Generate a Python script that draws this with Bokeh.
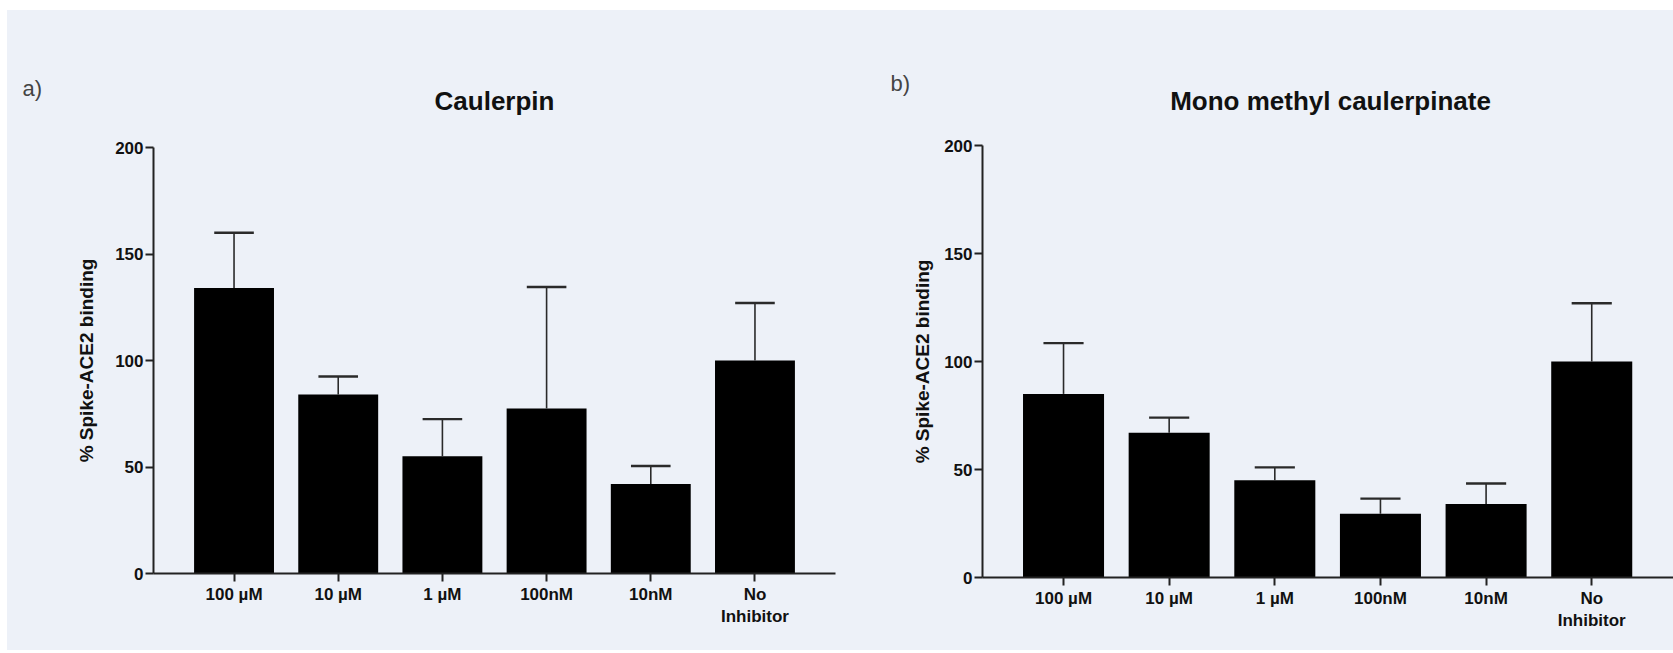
from bokeh.plotting import figure
from bokeh.layouts import row, column
from bokeh.models import FixedTicker, Range1d, ColumnDataSource
from bokeh.core.properties import value
from bokeh.embed import file_html
from bokeh.resources import INLINE

# Concentrations tested (same for both compounds)
categories = ["100 µM", "10 µM", "1 µM", "100nM", "10nM", "No\nInhibitor"]

# a) Caulerpin: mean % binding and upper error (SD)
caulerpin_mean = [134, 84, 55, 77.5, 42, 100]
caulerpin_err = [26, 8.5, 17.5, 57, 8.5, 27]

# b) Mono methyl caulerpinate
mmc_mean = [85, 67, 45, 29.5, 34, 100]
mmc_err = [23.5, 7, 6, 7, 9.5, 27]

y_ticks = [0, 50, 100, 150, 200]

BG = "#EDF1F8"
FONT = "Liberation Sans"
INK = "#111111"
AXIS = "#222222"

PANEL_W = 833
HEAD_H = 120
CHART_H = 520


def header(title, tag, title_x, title_y, tag_x, tag_y):
    """Strip above a chart holding the panel letter and the chart title."""
    h = figure(width=PANEL_W, height=HEAD_H, output_backend="svg",
               toolbar_location=None, tools="",
               x_range=Range1d(0, PANEL_W), y_range=Range1d(0, HEAD_H),
               min_border=0, frame_align=False)
    h.axis.visible = False
    h.grid.visible = False
    h.outline_line_color = None
    h.background_fill_color = BG
    h.border_fill_color = BG
    h.text(x=[title_x], y=[title_y], text=[title], text_font=value(FONT),
           text_font_style="bold", text_font_size="26px", text_color=INK,
           text_align="center", text_baseline="middle")
    h.text(x=[tag_x], y=[tag_y], text=[tag], text_font=value(FONT),
           text_font_size="22px", text_color="#444444",
           text_align="left", text_baseline="middle")
    return h


def chart(means, errs, x_start, x_end, b_left, b_right, b_top, b_bottom,
          label_standoff):
    xs = list(range(len(categories)))
    tops = [m + e for m, e in zip(means, errs)]
    src = ColumnDataSource(dict(
        x=xs, mean=means, top=tops,
        cap_l=[x - 0.19 for x in xs], cap_r=[x + 0.19 for x in xs],
    ))

    p = figure(width=PANEL_W, height=CHART_H, output_backend="svg",
               toolbar_location=None, tools="",
               x_range=Range1d(x_start, x_end), y_range=Range1d(0, 200),
               min_border_left=b_left, min_border_right=b_right,
               min_border_top=b_top, min_border_bottom=b_bottom)
    p.background_fill_color = BG
    p.border_fill_color = BG
    p.outline_line_color = None
    p.xgrid.visible = False
    p.ygrid.visible = False

    p.vbar(x="x", top="mean", width=0.767, source=src,
           fill_color="black", line_color=None)
    # upper error bars: stem + cap
    p.segment(x0="x", y0="mean", x1="x", y1="top", source=src,
              line_color="#2a2a2a", line_width=1.6)
    p.segment(x0="cap_l", y0="top", x1="cap_r", y1="top", source=src,
              line_color="#2a2a2a", line_width=2.4)

    ya = p.yaxis[0]
    ya.ticker = FixedTicker(ticks=y_ticks)
    ya.axis_label = "% Spike-ACE2 binding"
    ya.axis_label_text_font = FONT
    ya.axis_label_text_font_style = "bold"
    ya.axis_label_text_font_size = "19px"
    ya.axis_label_text_color = INK
    ya.axis_label_standoff = label_standoff
    ya.major_label_standoff = 2

    xa = p.xaxis[0]
    xa.ticker = FixedTicker(ticks=xs)
    xa.major_label_overrides = {i: c for i, c in enumerate(categories)}
    xa.major_label_standoff = 3

    for ax in (xa, ya):
        ax.major_label_text_font = FONT
        ax.major_label_text_font_style = "bold"
        ax.major_label_text_font_size = "17px"
        ax.major_label_text_color = INK
        ax.major_tick_out = 8
        ax.major_tick_in = 0
        ax.minor_tick_out = 0
        ax.minor_tick_in = 0
        ax.axis_line_width = 2
        ax.axis_line_color = AXIS
        ax.major_tick_line_width = 2
        ax.major_tick_line_color = AXIS
    return p


# panel a) Caulerpin
head_a = header("Caulerpin", "a)", 487, 30, 15, 42)
chart_a = chart(caulerpin_mean, caulerpin_err, -0.773, 5.773,
                146, 5, 17, 77, 15)

# panel b) Mono methyl caulerpinate
head_b = header("Mono methyl caulerpinate", "b)", 490, 30, 50, 47)
chart_b = chart(mmc_mean, mmc_err, -0.767, 5.774,
                142, 0, 15, 73, 8)

layout = row(column(head_a, chart_a, spacing=0),
             column(head_b, chart_b, spacing=0),
             spacing=0, margin=(10, 0, 3, 7),
             styles={"background-color": BG})

open("out.html", "w").write(file_html(layout, INLINE))
